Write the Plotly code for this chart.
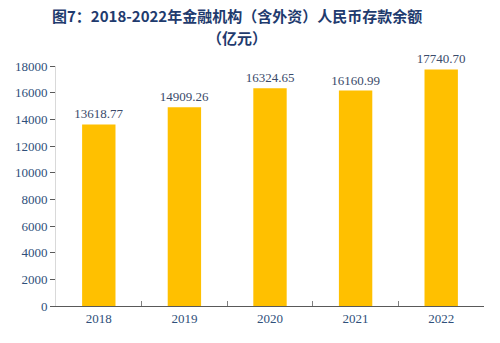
import plotly.graph_objects as go

years = ["2018", "2019", "2020", "2021", "2022"]
values = [13618.77, 14909.26, 16324.65, 16160.99, 17740.70]
labels = ["13618.77", "14909.26", "16324.65", "16160.99", "17740.70"]
yticks = [0, 2000, 4000, 6000, 8000, 10000, 12000, 14000, 16000, 18000]
yticktext = [str(v) for v in yticks]

txt = "#2F4F7A"
serif = "Liberation Serif, Times New Roman, serif"
fig = go.Figure(go.Bar(
    x=years, y=values, text=labels, textposition="outside",
    constraintext="none",
    textfont=dict(family=serif, size=13, color="#3A4A6A"),
    marker=dict(color="#FFC000", line=dict(width=0)),
    width=0.39, cliponaxis=False,
))
W, H = 500, 343
L, R, T, B = 56, 16, 66, 37
pw, ph = W - L - R, H - T - B


def px(x):
    return (x - L) / pw


def py(y):
    return (H - y - B) / ph


title_font = dict(family="Noto Sans CJK SC", size=15, color="#1F3B6E")
fig.update_layout(
    width=W, height=H, margin=dict(l=L, r=R, t=T, b=B),
    paper_bgcolor="white", plot_bgcolor="white", showlegend=False,
    font=dict(family=serif, color=txt),
    annotations=[
        dict(text="<b>图7：2018-2022年金融机构（含外资）人民币存款余额</b>",
             x=px(237), y=py(15), xref="paper", yref="paper", showarrow=False,
             xanchor="center", yanchor="middle", font=title_font),
        dict(text="<b>（亿元）</b>",
             x=px(237), y=py(37), xref="paper", yref="paper", showarrow=False,
             xanchor="center", yanchor="middle", font=title_font),
    ],
)
fig.update_xaxes(showline=True, linecolor="#595959", linewidth=1,
                 ticks="inside", tickson="boundaries", ticklen=5, tickcolor="#808080",
                 tickfont=dict(family=serif, size=13, color=txt),
                 showgrid=False)
fig.update_yaxes(range=[0, 18000], tickvals=yticks, ticktext=yticktext,
                 showline=True, linecolor="#D9D9D9",
                 ticks="outside", ticklen=5, tickcolor="#595959",
                 tickfont=dict(family=serif, size=13, color=txt),
                 showgrid=False, zeroline=False)
fig.write_html("out.html")
